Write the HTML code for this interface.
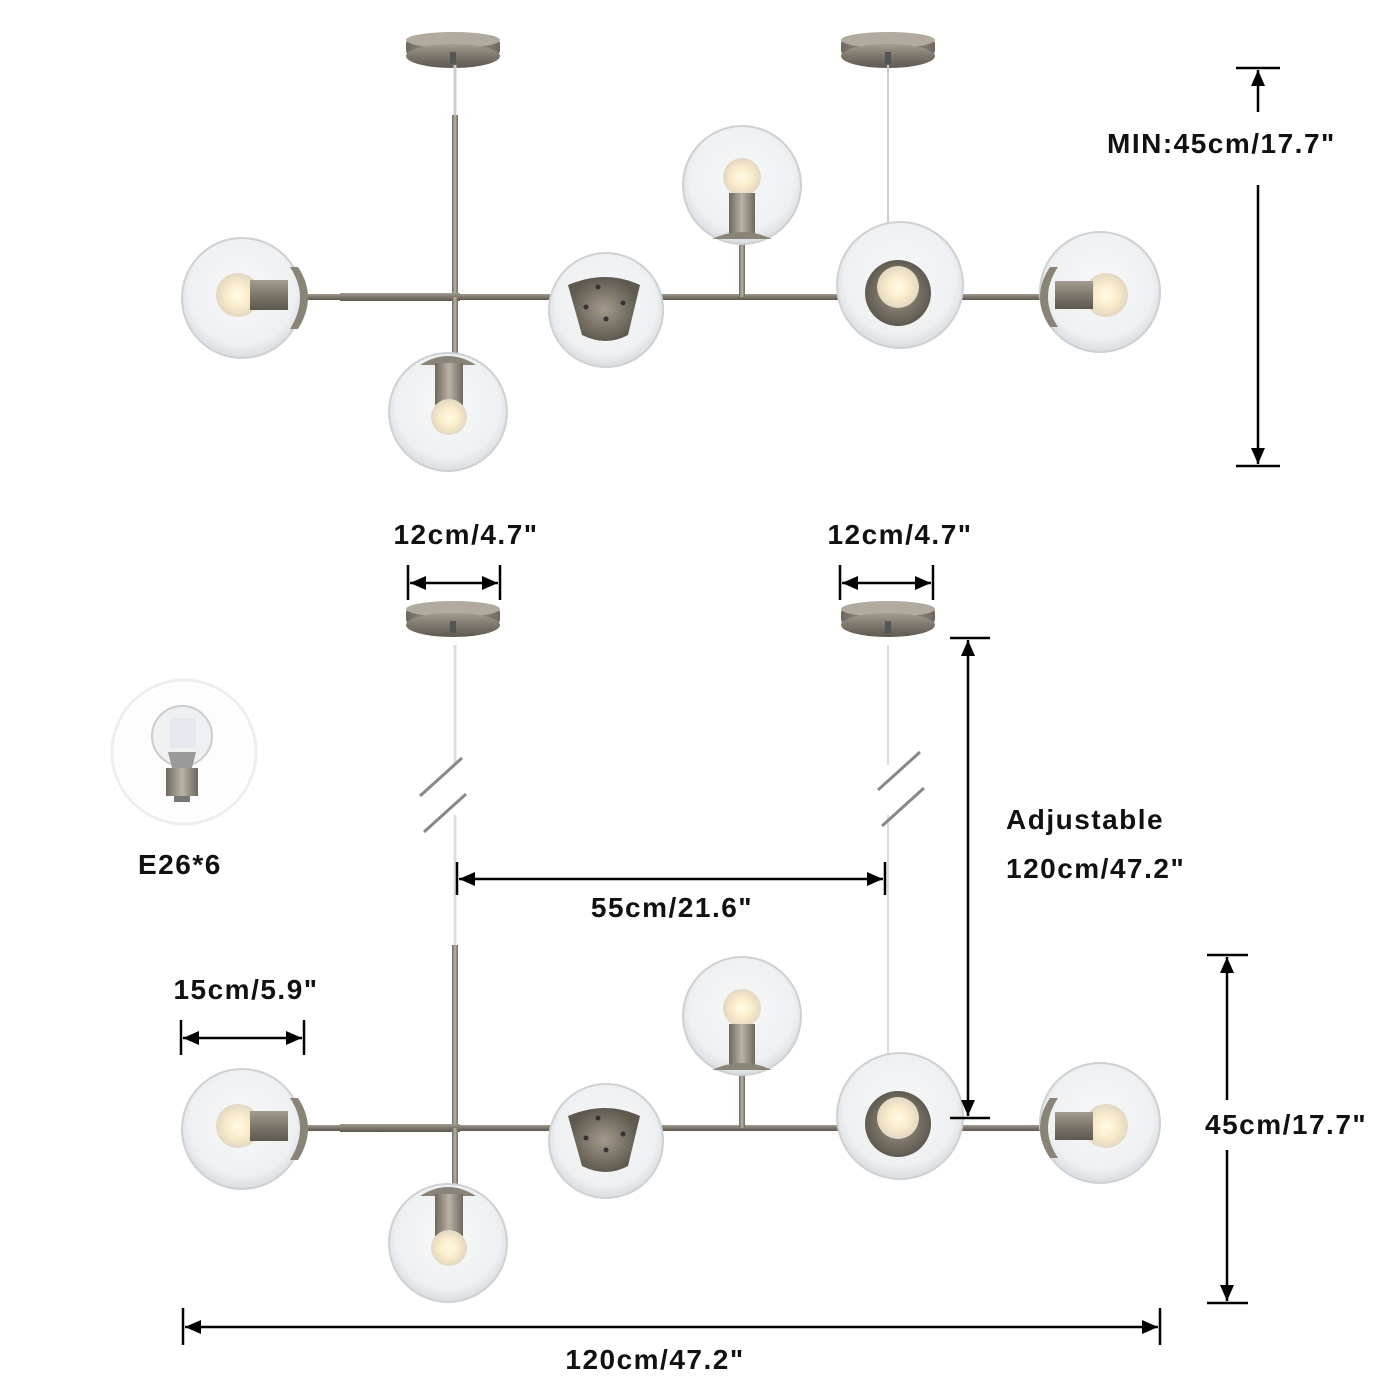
<!DOCTYPE html>
<html><head><meta charset="utf-8"><style>
html,body{margin:0;padding:0;background:#fff;}
svg{display:block}
text{font-family:"Liberation Sans",sans-serif;font-weight:bold;font-size:28px;letter-spacing:1.5px;fill:#111;}
</style></head><body>
<svg width="1400" height="1400" viewBox="0 0 1400 1400" xmlns="http://www.w3.org/2000/svg">
<defs>
 <radialGradient id="glass" cx="50%" cy="45%" r="55%">
  <stop offset="0" stop-color="#f7f8f9"/><stop offset="0.8" stop-color="#eef0f2"/><stop offset="1" stop-color="#d9dde0"/>
 </radialGradient>
 <radialGradient id="bulb" cx="50%" cy="50%" r="50%">
  <stop offset="0" stop-color="#fffbe8"/><stop offset="0.5" stop-color="#fbeccb"/><stop offset="1" stop-color="#e2d7c2"/>
 </radialGradient>
 <linearGradient id="metal" x1="0" y1="0" x2="1" y2="0">
  <stop offset="0" stop-color="#6f685e"/><stop offset="0.5" stop-color="#b9b2a6"/><stop offset="1" stop-color="#6f685e"/>
 </linearGradient>
 <linearGradient id="metalv" x1="0" y1="0" x2="0" y2="1">
  <stop offset="0" stop-color="#a39c90"/><stop offset="0.5" stop-color="#7d766b"/><stop offset="1" stop-color="#5e584f"/>
 </linearGradient>
 <radialGradient id="dark" cx="50%" cy="50%" r="50%">
  <stop offset="0" stop-color="#a29a8c"/><stop offset="1" stop-color="#5f594f"/>
 </radialGradient>
 <g id="canopy">
  <rect x="-47" y="0" width="94" height="18" rx="6" fill="url(#metal)"/>
  <ellipse cx="0" cy="2" rx="47" ry="8" fill="#b1aa9e"/>
  <ellipse cx="0" cy="18" rx="47" ry="12" fill="url(#metalv)"/>
  <rect x="-3" y="14" width="6" height="12" fill="#555"/>
 </g>
 <g id="chand">
  <rect x="300" y="-3" width="745" height="6" fill="url(#metalv)"/>
  <rect x="340" y="-4" width="120" height="8" fill="url(#metalv)"/>
  <circle cx="242" cy="1" r="60" fill="url(#glass)" stroke="#cdd1d4" stroke-width="2"/>
  <circle cx="238" cy="-2" r="22" fill="url(#bulb)"/>
  <rect x="250" y="-17" width="38" height="30" fill="url(#metalv)"/>
  <path d="M290 -30 Q310 0 290 32 L298 32 Q318 0 298 -30Z" fill="#8a8378"/>
  <rect x="452" y="0" width="6" height="60" fill="url(#metal)"/>
  <circle cx="448" cy="115" r="59" fill="url(#glass)" stroke="#cdd1d4" stroke-width="2"/>
  <path d="M420 68 Q448 50 476 68Z" fill="#8a8378"/>
  <rect x="435" y="66" width="28" height="42" fill="url(#metal)"/>
  <circle cx="449" cy="120" r="18" fill="url(#bulb)"/>
  <circle cx="606" cy="13" r="57" fill="url(#glass)" stroke="#cdd1d4" stroke-width="2"/>
  <path d="M568 -12 Q606 -28 640 -12 L628 38 Q606 50 582 38Z" fill="url(#dark)"/>
  <circle cx="598" cy="-10" r="2.5" fill="#333"/><circle cx="623" cy="6" r="2.5" fill="#333"/><circle cx="586" cy="10" r="2.5" fill="#333"/><circle cx="606" cy="22" r="2.5" fill="#333"/>
  <rect x="739" y="-58" width="6" height="58" fill="url(#metal)"/>
  <circle cx="742" cy="-112" r="59" fill="url(#glass)" stroke="#cdd1d4" stroke-width="2"/>
  <circle cx="742" cy="-120" r="19" fill="url(#bulb)"/>
  <rect x="729" y="-104" width="26" height="42" fill="url(#metal)"/>
  <path d="M712 -58 Q742 -72 772 -58Z" fill="#8a8378"/>
  <circle cx="900" cy="-12" r="63" fill="url(#glass)" stroke="#cdd1d4" stroke-width="2"/>
  <circle cx="898" cy="-4" r="33" fill="url(#dark)"/>
  <circle cx="898" cy="-10" r="21" fill="url(#bulb)"/>
  <circle cx="1100" cy="-5" r="60" fill="url(#glass)" stroke="#cdd1d4" stroke-width="2"/>
  <circle cx="1106" cy="-2" r="22" fill="url(#bulb)"/>
  <rect x="1055" y="-16" width="38" height="28" fill="url(#metalv)"/>
  <path d="M1050 -30 Q1030 0 1050 30 L1058 30 Q1038 0 1058 -30Z" fill="#8a8378"/>
 </g>
</defs>

<use href="#canopy" x="453" y="38"/>
<use href="#canopy" x="888" y="38"/>
<line x1="455" y1="65" x2="455" y2="115" stroke="#ccc" stroke-width="3"/>
<rect x="452" y="115" width="6" height="182" fill="url(#metal)"/>
<line x1="888" y1="65" x2="888" y2="225" stroke="#ccc" stroke-width="2"/>
<use href="#chand" x="0" y="297"/>

<use href="#canopy" x="453" y="607"/>
<use href="#canopy" x="888" y="607"/>
<line x1="455" y1="645" x2="455" y2="765" stroke="#ddd" stroke-width="3"/>
<line x1="455" y1="815" x2="455" y2="945" stroke="#ddd" stroke-width="3"/>
<rect x="452" y="945" width="6" height="183" fill="url(#metal)"/>
<line x1="420" y1="796" x2="462" y2="758" stroke="#888" stroke-width="3"/>
<line x1="424" y1="832" x2="466" y2="794" stroke="#888" stroke-width="3"/>
<line x1="888" y1="645" x2="888" y2="765" stroke="#ddd" stroke-width="2"/>
<line x1="888" y1="815" x2="888" y2="1060" stroke="#ddd" stroke-width="2"/>
<line x1="878" y1="790" x2="920" y2="752" stroke="#888" stroke-width="3"/>
<line x1="882" y1="826" x2="924" y2="788" stroke="#888" stroke-width="3"/>
<use href="#chand" x="0" y="1128"/>

<circle cx="184" cy="752" r="72" fill="#fff" stroke="#eee" stroke-width="3"/>
<circle cx="184" cy="752" r="68" fill="#fdfdfd"/>
<circle cx="182" cy="736" r="30" fill="#eef0f2" stroke="#c9cdd0" stroke-width="2"/>
<rect x="170" y="718" width="26" height="30" fill="#e6e8f0"/>
<path d="M168 752 L196 752 L192 768 L172 768Z" fill="#9a9a9a"/>
<rect x="166" y="768" width="32" height="28" fill="url(#metal)"/>
<rect x="174" y="796" width="16" height="6" fill="#777"/>
<text x="138" y="874">E26*6</text>

<g stroke="#000" stroke-width="2.5" fill="none">
 <line x1="1236" y1="68" x2="1280" y2="68"/><line x1="1236" y1="466" x2="1280" y2="466"/>
 <line x1="1258" y1="70" x2="1258" y2="112"/><line x1="1258" y1="185" x2="1258" y2="464"/>
 <line x1="408" y1="565" x2="408" y2="600"/><line x1="500" y1="565" x2="500" y2="600"/><line x1="410" y1="583" x2="498" y2="583"/>
 <line x1="840" y1="565" x2="840" y2="600"/><line x1="933" y1="565" x2="933" y2="600"/><line x1="842" y1="583" x2="931" y2="583"/>
 <line x1="950" y1="638" x2="990" y2="638"/><line x1="950" y1="1118" x2="990" y2="1118"/><line x1="968" y1="640" x2="968" y2="1116"/>
 <line x1="457" y1="862" x2="457" y2="895"/><line x1="885" y1="862" x2="885" y2="895"/><line x1="459" y1="879" x2="883" y2="879"/>
 <line x1="181" y1="1020" x2="181" y2="1055"/><line x1="304" y1="1020" x2="304" y2="1055"/><line x1="183" y1="1038" x2="302" y2="1038"/>
 <line x1="1207" y1="955" x2="1248" y2="955"/><line x1="1207" y1="1303" x2="1248" y2="1303"/>
 <line x1="1227" y1="957" x2="1227" y2="1100"/><line x1="1227" y1="1150" x2="1227" y2="1301"/>
 <line x1="183" y1="1308" x2="183" y2="1345"/><line x1="1160" y1="1308" x2="1160" y2="1345"/><line x1="185" y1="1327" x2="1158" y2="1327"/>
</g>
<g fill="#000">
 <path d="M1258 70 l-7 16 h14z"/><path d="M1258 464 l-7 -16 h14z"/>
 <path d="M410 583 l16 -7 v14z"/><path d="M498 583 l-16 -7 v14z"/>
 <path d="M842 583 l16 -7 v14z"/><path d="M931 583 l-16 -7 v14z"/>
 <path d="M968 640 l-7 16 h14z"/><path d="M968 1116 l-7 -16 h14z"/>
 <path d="M459 879 l16 -7 v14z"/><path d="M883 879 l-16 -7 v14z"/>
 <path d="M183 1038 l16 -7 v14z"/><path d="M302 1038 l-16 -7 v14z"/>
 <path d="M1227 957 l-7 16 h14z"/><path d="M1227 1301 l-7 -16 h14z"/>
 <path d="M185 1327 l16 -7 v14z"/><path d="M1158 1327 l-16 -7 v14z"/>
</g>

<text x="1107" y="153">MIN:45cm/17.7"</text>
<text x="466" y="544" text-anchor="middle">12cm/4.7"</text>
<text x="900" y="544" text-anchor="middle">12cm/4.7"</text>
<text x="1006" y="829">Adjustable</text>
<text x="1006" y="878">120cm/47.2"</text>
<text x="672" y="917" text-anchor="middle">55cm/21.6"</text>
<text x="246" y="999" text-anchor="middle">15cm/5.9"</text>
<text x="1205" y="1134">45cm/17.7"</text>
<text x="655" y="1369" text-anchor="middle">120cm/47.2"</text>
</svg>
</body></html>
